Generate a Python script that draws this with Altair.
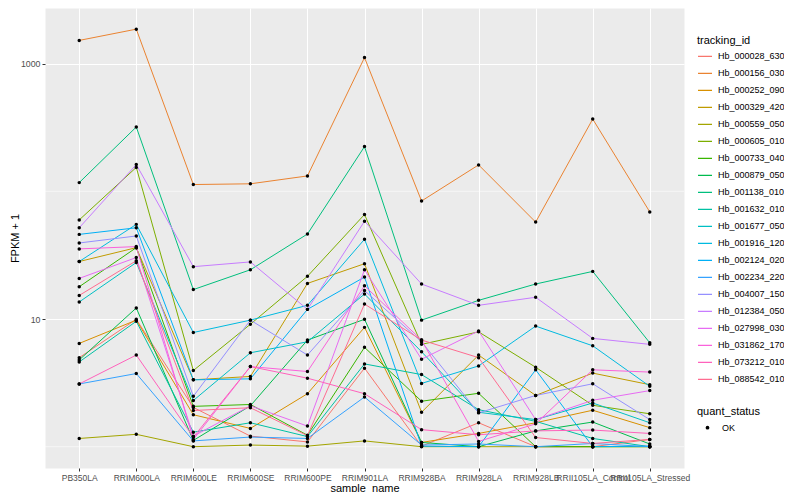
import altair as alt
import pandas as pd

samples = ["PB350LA", "RRIM600LA", "RRIM600LE", "RRIM600SE", "RRIM600PE", "RRIM901LA",
           "RRIM928BA", "RRIM928LA", "RRIM928LB", "RRII105LA_Control", "RRII105LA_Stressed"]

genes = ["Hb_000028_630", "Hb_000156_030", "Hb_000252_090", "Hb_000329_420", "Hb_000559_050",
         "Hb_000605_010", "Hb_000733_040", "Hb_000879_050", "Hb_001138_010", "Hb_001632_010",
         "Hb_001677_050", "Hb_001916_120", "Hb_002124_020", "Hb_002234_220", "Hb_004007_150",
         "Hb_012384_050", "Hb_027998_030", "Hb_031862_170", "Hb_073212_010", "Hb_088542_010"]

palette = ["#F8766D", "#EA8331", "#D89000", "#C09B00", "#A3A500", "#7CAE00", "#39B600",
           "#00BB4E", "#00BF7D", "#00C1A3", "#00BFC4", "#00BAE0", "#00B0F6", "#35A2FF",
           "#9590FF", "#C77CFF", "#E76BF3", "#FA62DB", "#FF62BC", "#FF6C91"]

# FPKM + 1 per sample, in the order of `samples`
Hb_000028_630 = [4.98, 9.95, 2.03, 1.21, 1.09, 4.12, 1.01, 1.54, 1.0, 1.0, 1.14]
Hb_000156_030 = [1520, 1862, 113, 114.5, 132, 1115, 84, 161, 57.4, 368, 69]
Hb_000252_090 = [6.44, 9.8, 1.78, 1.39, 2.60, 8.6, 1.08, 1.27, 1.54, 1.93, 1.41]
Hb_000329_420 = [28.2, 36.2, 3.34, 3.55, 19.0, 27.1, 1.86, 5.22, 2.52, 3.77, 3.06]
Hb_000559_050 = [1.16, 1.25, 1.0, 1.03, 1.01, 1.11, 1.0, 1.0, 1.0, 1.0, 1.0]
Hb_000605_010 = [59.7, 154, 3.95, 9.1, 21.6, 65.8, 6.33, 7.93, 4.19, 2.11, 1.81]
Hb_000733_040 = [17.9, 36.2, 2.07, 2.14, 1.23, 6.0, 2.27, 2.62, 1.0, 1.0, 1.0]
Hb_000879_050 = [4.78, 12.2, 1.12, 2.09, 6.84, 9.95, 1.08, 1.0, 1.33, 1.56, 1.05]
Hb_001138_010 = [117, 319, 17.0, 24.3, 46.3, 224, 9.8, 14.0, 18.8, 23.6, 6.51]
Hb_001632_010 = [4.61, 9.6, 1.30, 1.54, 1.20, 4.45, 3.67, 1.95, 1.58, 1.16, 1.0]
Hb_001677_050 = [13.6, 27.7, 2.30, 5.44, 6.63, 15.7, 5.54, 1.86, 1.63, 2.20, 1.54]
Hb_001916_120 = [28.2, 55.1, 7.84, 9.8, 12.8, 42.1, 3.13, 4.29, 8.8, 6.17, 2.97]
Hb_002124_020 = [46.0, 51.8, 3.34, 3.40, 11.9, 21.3, 1.01, 1.0, 4.0, 1.0, 1.01]
Hb_002234_220 = [3.10, 3.74, 1.11, 1.19, 1.16, 2.45, 1.03, 1.05, 1.0, 1.06, 1.0]
Hb_004007_150 = [39.4, 44.7, 2.48, 9.8, 5.22, 16.7, 6.63, 1.84, 2.52, 3.11, 1.63]
Hb_012384_050 = [51.8, 162, 25.7, 28.0, 11.9, 58.3, 18.8, 12.8, 14.8, 7.05, 6.33]
Hb_027998_030 = [20.8, 30.3, 1.21, 2.09, 1.45, 24.3, 4.84, 8.07, 1.63, 2.31, 2.75]
Hb_031862_170 = [35.4, 36.9, 1.14, 4.24, 3.88, 18.2, 6.84, 1.10, 1.51, 4.0, 3.84]
Hb_073212_010 = [3.10, 5.22, 1.19, 4.24, 3.44, 2.60, 1.36, 1.24, 1.33, 1.35, 1.27]
Hb_088542_010 = [15.3, 28.6, 1.92, 2.02, 1.22, 13.1, 6.84, 4.98, 1.18, 1.06, 1.14]

series = [Hb_000028_630, Hb_000156_030, Hb_000252_090, Hb_000329_420, Hb_000559_050,
          Hb_000605_010, Hb_000733_040, Hb_000879_050, Hb_001138_010, Hb_001632_010,
          Hb_001677_050, Hb_001916_120, Hb_002124_020, Hb_002234_220, Hb_004007_150,
          Hb_012384_050, Hb_027998_030, Hb_031862_170, Hb_073212_010, Hb_088542_010]

y_major = [10, 1000]
y_minor = [1, 100]

rows = []
for g, vals in zip(genes, series):
    for s, v in zip(samples, vals):
        rows.append({"tracking_id": g, "sample_name": s, "fpkm": v, "quant_status": "OK"})
df = pd.DataFrame(rows)
minor_df = pd.DataFrame({"fpkm": y_minor})

W, H = 639, 460
FONT = "Liberation Sans"

yscale = alt.Scale(type="log", domain=[0.681, 2727], nice=False)
xscale = alt.Scale(type="point", padding=0.6)

x_axis = alt.Axis(title="sample_name", grid=True, gridColor="white", gridWidth=1.07,
                  domain=False, tickColor="#333333", tickSize=3, labelColor="#4D4D4D",
                  labelFontSize=8.5, labelAngle=0, labelOverlap=False, labelPadding=2,
                  labelBound=False, titleFontSize=11, titleColor="black",
                  titleFontWeight="normal", titleY=14)
y_axis = alt.Axis(title="FPKM + 1", values=y_major, format="d", grid=True, gridColor="white",
                  gridWidth=1.07, domain=False, tickColor="#333333", tickSize=3,
                  labelColor="#4D4D4D", labelFontSize=8.8, labelPadding=2, titleFontSize=11,
                  titleColor="black", titleFontWeight="normal", titleX=-25, titleY=H / 2,
                  labelOverlap=False)

minor = alt.Chart(minor_df).mark_rule(color="white", strokeWidth=0.55).encode(
    y=alt.Y("fpkm:Q", scale=yscale, axis=y_axis)
)

lines = alt.Chart(df).mark_line(strokeWidth=1.0).encode(
    x=alt.X("sample_name:N", sort=samples, scale=xscale, axis=x_axis),
    y=alt.Y("fpkm:Q", scale=yscale, axis=y_axis),
    color=alt.Color("tracking_id:N", sort=genes,
                    scale=alt.Scale(domain=genes, range=palette),
                    legend=alt.Legend(title="tracking_id", orient="none", legendX=652, legendY=27,
                                      symbolType="stroke", symbolSize=196, symbolStrokeWidth=1.2,
                                      labelFontSize=9, labelColor="black", titleFontSize=11,
                                      titleColor="black", titleFontWeight="normal",
                                      clipHeight=14.7, rowPadding=2, titlePadding=3,
                                      labelOffset=5, padding=0)),
    detail="tracking_id:N",
)

points = alt.Chart(df).mark_point(filled=True, size=12, color="black", opacity=1).encode(
    x=alt.X("sample_name:N", sort=samples, scale=xscale, axis=x_axis),
    y=alt.Y("fpkm:Q", scale=yscale, axis=y_axis),
    shape=alt.Shape("quant_status:N", scale=alt.Scale(domain=["OK"], range=["circle"]),
                    legend=alt.Legend(title="quant_status", orient="none", legendX=652, legendY=398,
                                      symbolFillColor="black", symbolStrokeColor="black",
                                      symbolSize=14, symbolOffset=6, labelFontSize=9,
                                      labelColor="black", titleFontSize=11, titleColor="black",
                                      titleFontWeight="normal", clipHeight=15.3, titlePadding=3,
                                      labelOffset=10, padding=0)),
)

chart = alt.layer(minor, lines, points).properties(
    width=W, height=H,
    autosize=alt.AutoSizeParams(type="none"),
    padding={"left": 37, "top": 0, "right": 100, "bottom": 24},
).configure(font=FONT).configure_view(fill="#EBEBEB", stroke="transparent")

chart.save("out.html", embed_options={"renderer": "svg", "actions": False})
